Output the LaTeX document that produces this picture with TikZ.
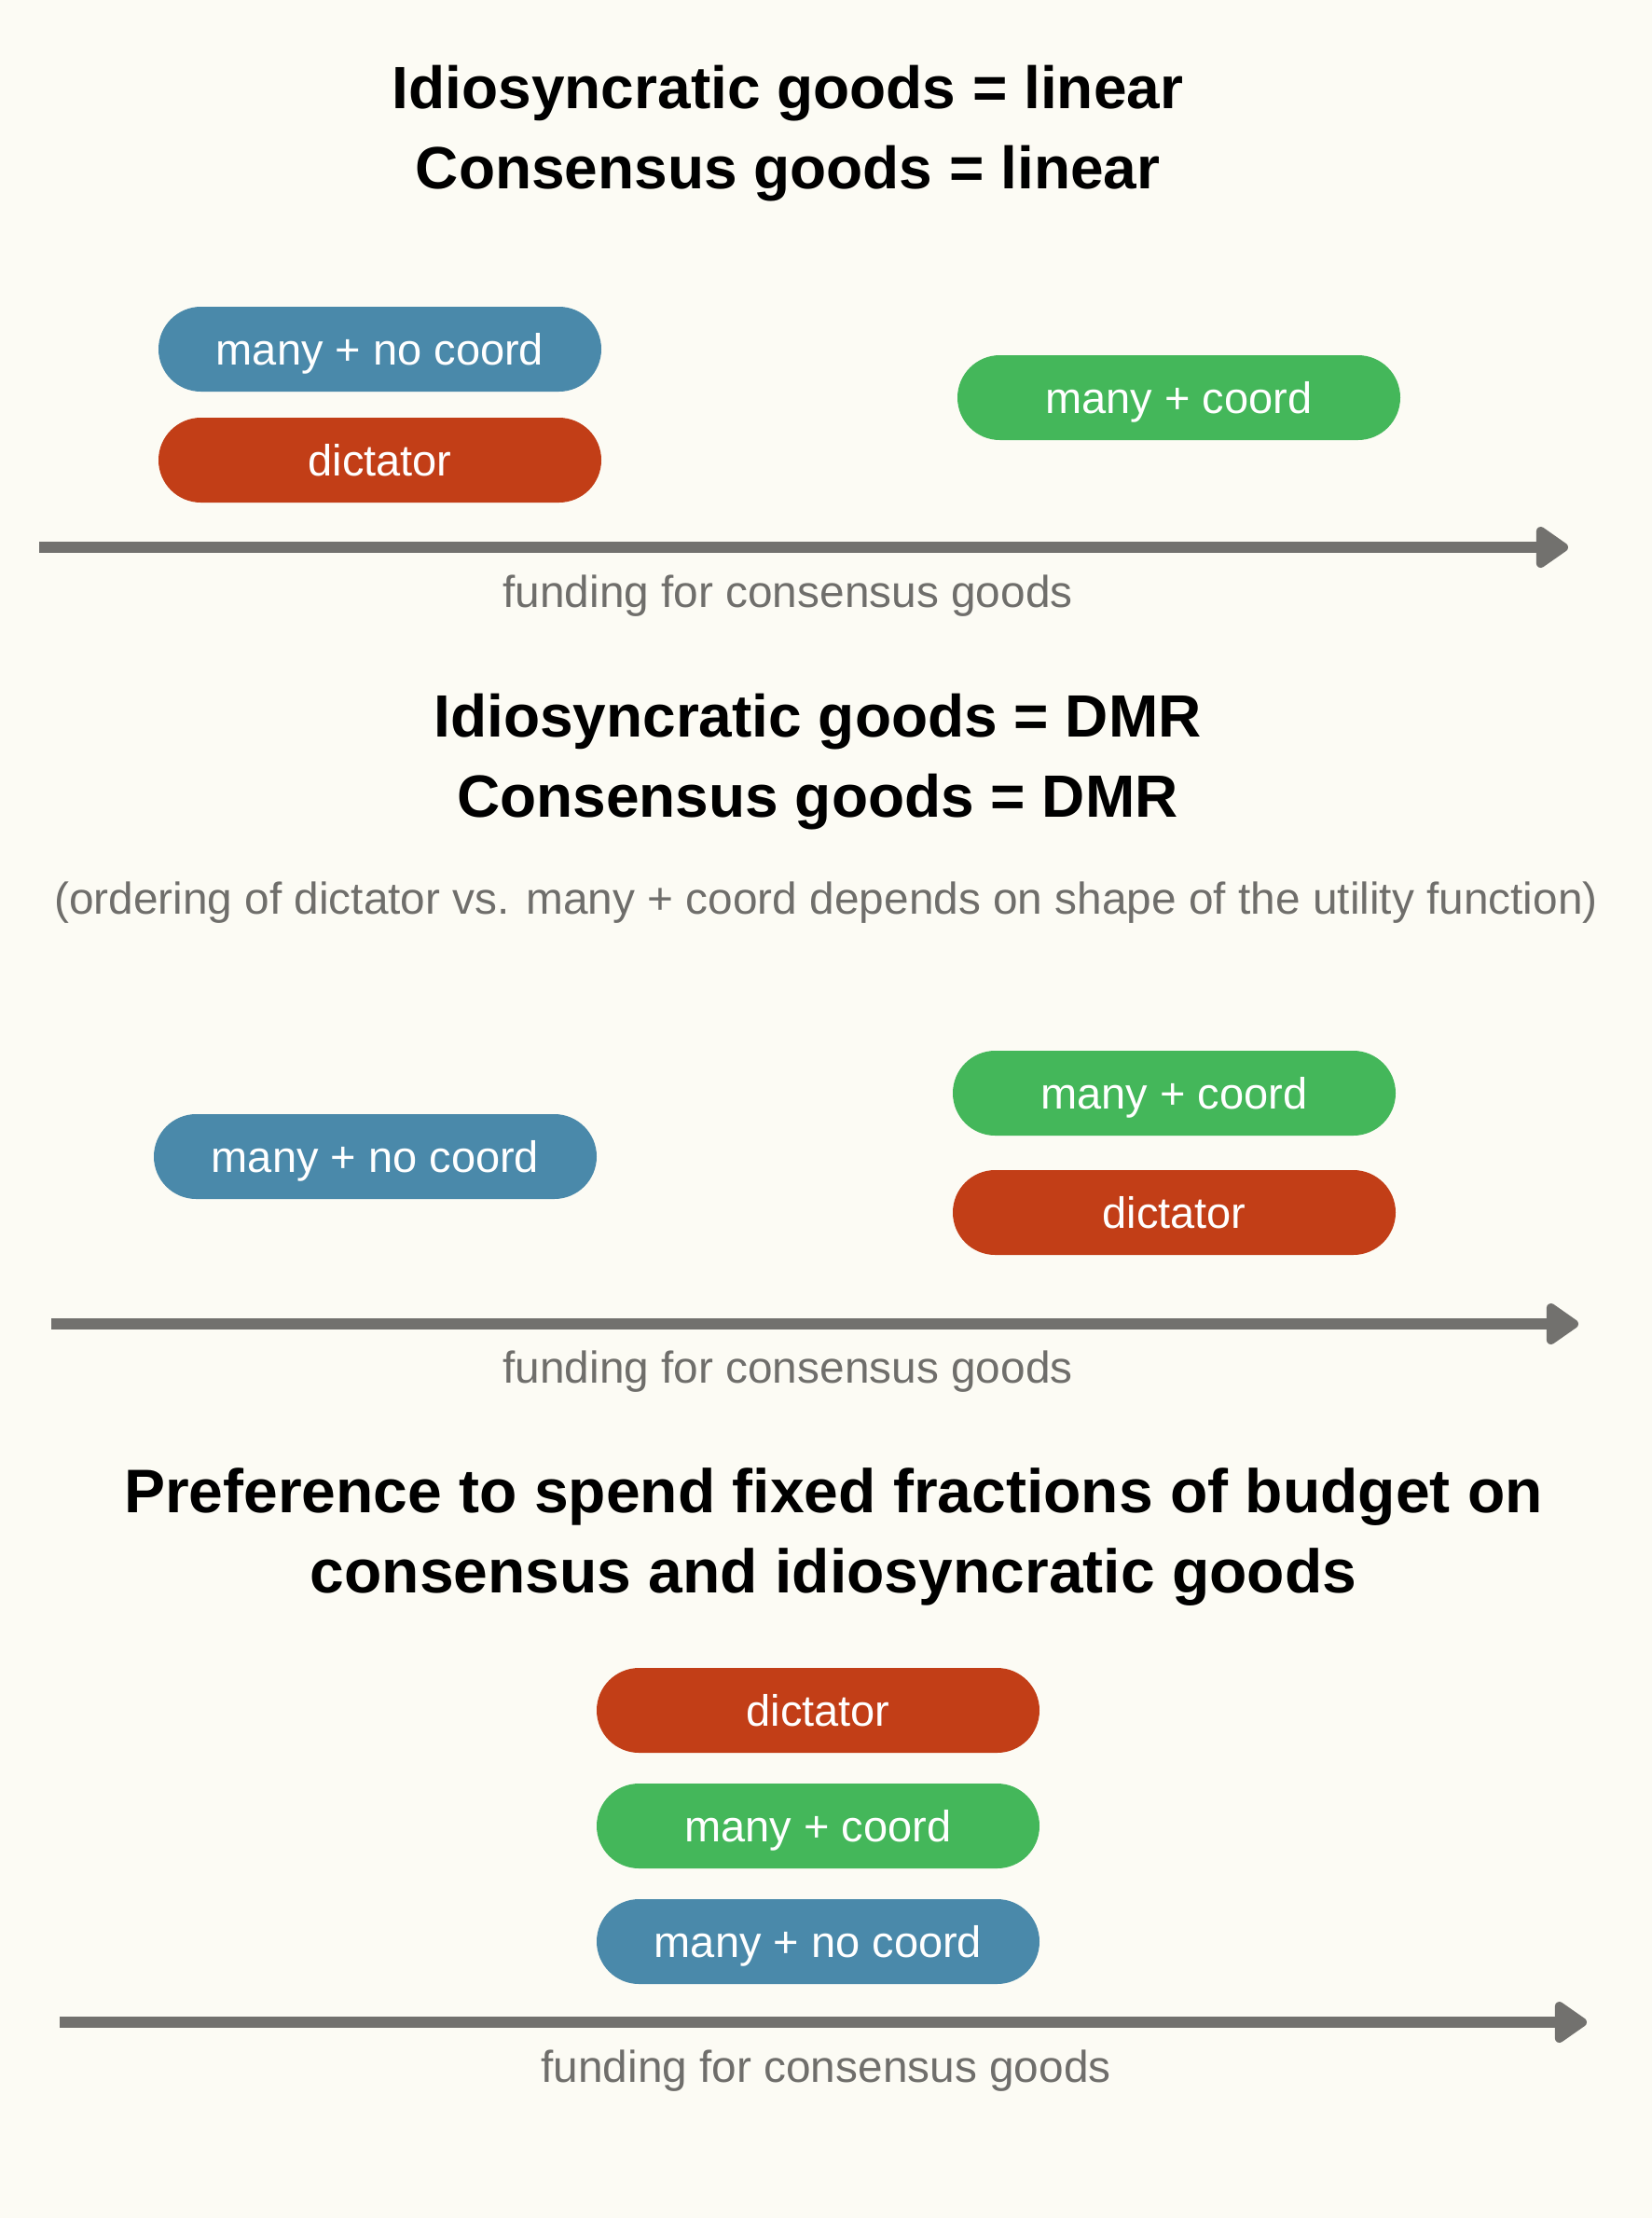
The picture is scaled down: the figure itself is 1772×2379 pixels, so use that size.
\documentclass[tikz,border=0pt]{standalone}
\usepackage{fontspec}
\setmainfont{Liberation Sans}
\usetikzlibrary{arrows.meta}
\definecolor{bgcream}{HTML}{FCFBF4}
\definecolor{pillblue}{HTML}{4A89AA}
\definecolor{pillred}{HTML}{C23E17}
\definecolor{pillgreen}{HTML}{44B75A}
\definecolor{axisgray}{HTML}{72716E}
\definecolor{labelgray}{HTML}{6F6E6B}
\begin{document}
\begin{tikzpicture}[x=0.5pt,y=-0.5pt, line join=round,
            pill/.style={rounded corners=22.75pt, minimum width=237.5pt, minimum height=45.5pt,
                inner sep=0pt, text height=17pt, text depth=0pt, text=white, font=\fontsize{23.5}{28}\selectfont},
            title/.style={align=center, yshift=-3pt, font=\fontsize{32}{43}\selectfont\bfseries},
            axislabel/.style={text=labelgray, text height=17pt, text depth=0pt, font=\fontsize{23.9}{28}\selectfont},
            axis/.style={line width=6pt, draw=axisgray, -{Triangle[length=19pt,width=25pt,round]}}
            ]
            \fill[bgcream] (0,0) rectangle (1772,2379);
            \useasboundingbox (0,0) rectangle (1772,2379);
            %Phần 1: linear
            \node[title] (t1) at (845,137) {Idiosyncratic goods = linear\\Consensus goods = linear};
            \node[pill, fill=pillblue] (nocoord1) at (407.5,374.5) {many + no coord};
            \node[pill, fill=pillred] (dict1) at (407.5,493.5) {dictator};
            \node[pill, fill=pillgreen] (coord1) at (1264.5,426.5) {many + coord};
            \path (42,587) coordinate (a1s) (1682,587) coordinate (a1e);
            \draw[axis] (a1s)--(a1e);
            \node[axislabel] (l1) at (845,634) {funding for consensus goods};
            %Phần 2: DMR
            \node[title] (t2) at (877,811) {Idiosyncratic goods = DMR\\Consensus goods = DMR};
            \node[axislabel] (note2) at (886,963) {(ordering of dictator vs. many + coord depends on shape of the utility function)};
            \node[pill, fill=pillblue] (nocoord2) at (402.5,1240.5) {many + no coord};
            \node[pill, fill=pillgreen] (coord2) at (1259.5,1172.5) {many + coord};
            \node[pill, fill=pillred] (dict2) at (1259.5,1300.5) {dictator};
            \path (55,1420) coordinate (a2s) (1693,1420) coordinate (a2e);
            \draw[axis] (a2s)--(a2e);
            \node[axislabel] (l2) at (845,1466) {funding for consensus goods};
            %Phần 3: fixed fractions
            \node[title, font=\fontsize{33}{43}\selectfont\bfseries] (t3) at (894,1643) {Preference to spend fixed fractions of budget on\\consensus and idiosyncratic goods};
            \node[pill, fill=pillred] (dict3) at (877.5,1834.5) {dictator};
            \node[pill, fill=pillgreen] (coord3) at (877.5,1958.5) {many + coord};
            \node[pill, fill=pillblue] (nocoord3) at (877.5,2082.5) {many + no coord};
            \path (64,2169) coordinate (a3s) (1702,2169) coordinate (a3e);
            \draw[axis] (a3s)--(a3e);
            \node[axislabel] (l3) at (886,2216) {funding for consensus goods};
        \end{tikzpicture}
\end{document}
